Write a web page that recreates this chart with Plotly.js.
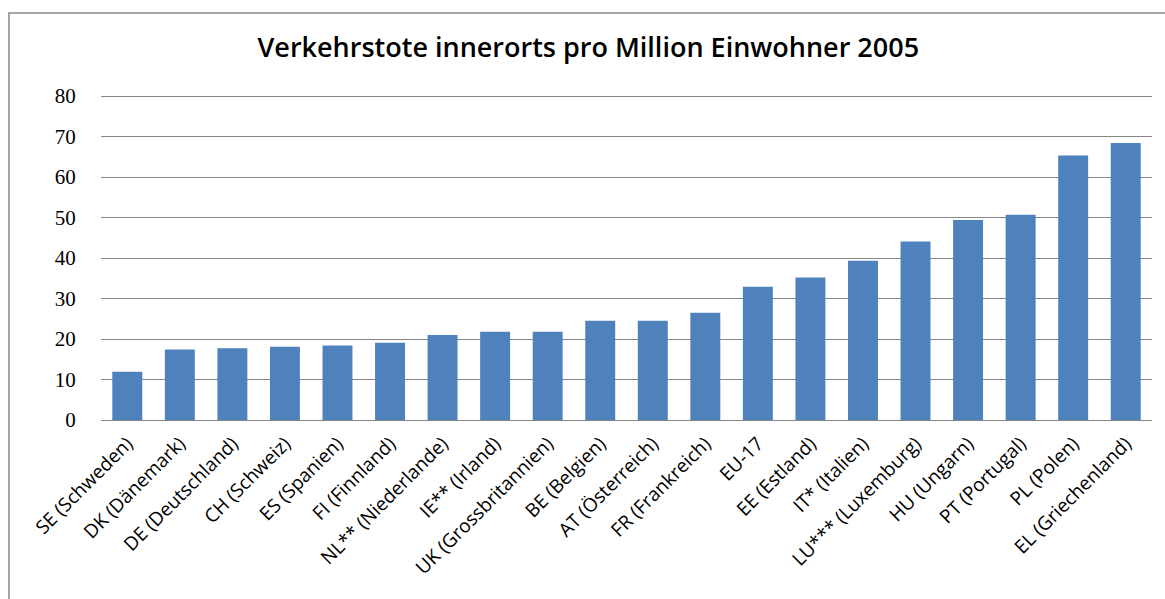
<!DOCTYPE html>
<html>
<head>
<meta charset="utf-8">
<script src="https://cdn.plot.ly/plotly-3.0.1.min.js"></script>
<style>
  html, body { margin: 0; padding: 0; overflow: hidden; background: #fff; }
  #wrap { position: relative; width: 1165px; height: 599px; overflow: hidden; }
  #chart { position: absolute; left: 0; top: 0; width: 1165px; height: 599px; }
  #frame { position: absolute; left: 8px; top: 12px; width: 1300px; height: 800px;
           border-left: 2px solid #a6a6a6; border-top: 2px solid #a6a6a6; pointer-events: none; }
</style>
</head>
<body>
<div id="wrap">
  <div id="chart"></div>
  <div id="frame"></div>
</div>
<script>
const categories = [
  "SE (Schweden)", "DK (Dänemark)", "DE (Deutschland)", "CH (Schweiz)", "ES (Spanien)",
  "FI (Finnland)", "NL** (Niederlande)", "IE** (Irland)", "UK (Grossbritannien)", "BE (Belgien)",
  "AT (Österreich)", "FR (Frankreich)", "EU-17", "EE (Estland)", "IT* (Italien)",
  "LU*** (Luxemburg)", "HU (Ungarn)", "PT (Portugal)", "PL (Polen)", "EL (Griechenland)"
];
const values = [
  11.9, 17.4, 17.7, 18.1, 18.4,
  19.1, 21.0, 21.8, 21.8, 24.5,
  24.5, 26.5, 32.9, 35.2, 39.3,
  44.1, 49.4, 50.7, 65.3, 68.4
];
const yTicks = [0, 10, 20, 30, 40, 50, 60, 70, 80];
const chartTitle = "Verkehrstote innerorts pro Million Einwohner 2005";

const trace = {
  type: "bar",
  x: categories,
  y: values,
  marker: { color: "#4f81bd" },
  hoverinfo: "x+y"
};

const layout = {
  width: 1165,
  height: 599,
  margin: { l: 101, r: 13, t: 92, b: 179 },
  paper_bgcolor: "rgba(0,0,0,0)",
  plot_bgcolor: "#ffffff",
  bargap: 0.43,
  showlegend: false,
  title: {
    text: chartTitle,
    font: { family: "Open Sans, sans-serif", size: 27, weight: 600, color: "#000000" },
    xref: "container", x: 0.505, xanchor: "center",
    yref: "container", y: 1 - 48 / 599, yanchor: "middle"
  },
  xaxis: {
    type: "category",
    tickangle: -45,
    tickfont: { family: "Open Sans, sans-serif", size: 19, color: "#000000" },
    showgrid: false,
    showline: true,
    linecolor: "#868686",
    linewidth: 1,
    ticks: "outside",
    ticklen: 4,
    tickcolor: "rgba(0,0,0,0)",
    automargin: false
  },
  yaxis: {
    range: [0, 81],
    tickvals: yTicks,
    ticktext: yTicks.map(String),
    tickfont: { family: "Liberation Serif, serif", size: 21, color: "#000000" },
    showgrid: true,
    gridcolor: "#868686",
    gridwidth: 1,
    zeroline: false,
    showline: false,
    ticks: "outside",
    ticklen: 20,
    tickcolor: "rgba(0,0,0,0)",
    automargin: false
  }
};

Plotly.newPlot("chart", [trace], layout, { staticPlot: true, displayModeBar: false });
</script>
</body>
</html>
